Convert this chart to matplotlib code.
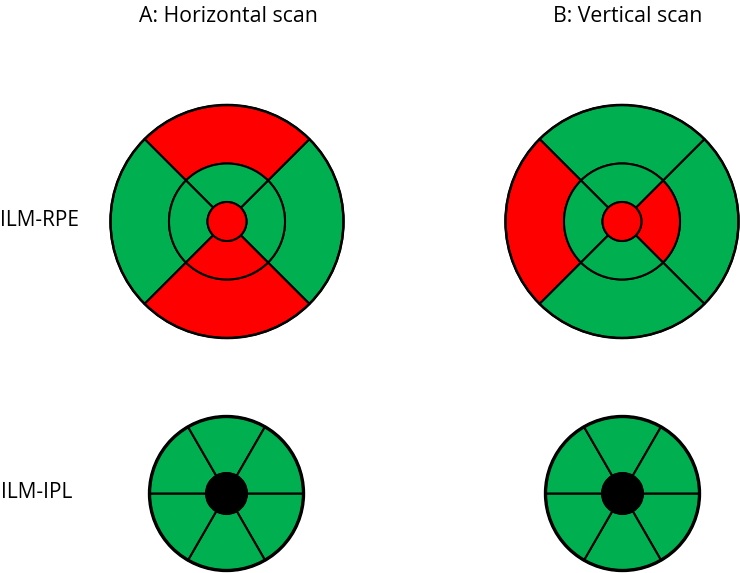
import matplotlib
matplotlib.use("Agg")
import matplotlib.pyplot as plt
from matplotlib.patches import Wedge, Circle

# ---- data ----
columns = ["A: Horizontal scan", "B: Vertical scan"]
rows = ["ILM-RPE", "ILM-IPL"]
quadrants = ["right", "top", "left", "bottom"]          # ETDRS quadrants
# 1 = significant (red), 0 = not significant (green)
A_center = 1
A_inner = [0, 0, 0, 1]
A_outer = [0, 1, 0, 1]
B_center = 1
B_inner = [1, 0, 0, 0]
B_outer = [0, 0, 1, 0]
ipl_sectors = ["s1", "s2", "s3", "s4", "s5", "s6"]
A_ipl = [0, 0, 0, 0, 0, 0]
B_ipl = [0, 0, 0, 0, 0, 0]

RED = "#FF0000"
GREEN = "#00B050"
col = {1: RED, 0: GREEN}

fig = plt.figure(figsize=(7.40, 5.73), dpi=100)
ax = fig.add_axes([0, 0, 1, 1])
ax.set_xlim(0, 740)
ax.set_ylim(573, 0)
ax.set_aspect("equal")
ax.axis("off")

font = ["Open Sans", "DejaVu Sans"]

def etdrs(cx, cy, center, inner, outer):
    R1, R2, R3 = 19.5, 58, 116.5
    for i, q in enumerate(quadrants):
        mid = -i * 90
        th1, th2 = mid - 45, mid + 45
        ax.add_patch(Wedge((cx, cy), R3, th1, th2, width=R3 - R2,
                           facecolor=col[outer[i]], edgecolor="black", lw=1.5))
        ax.add_patch(Wedge((cx, cy), R2, th1, th2, width=R2 - R1,
                           facecolor=col[inner[i]], edgecolor="black", lw=1.5))
    ax.add_patch(Circle((cx, cy), R1, facecolor=col[center], edgecolor="black", lw=1.5))
    ax.add_patch(Circle((cx, cy), R3, facecolor="none", edgecolor="black", lw=1.8))

def ipl(cx, cy, vals):
    R1, R2 = 20.5, 77
    for i, s in enumerate(ipl_sectors):
        ax.add_patch(Wedge((cx, cy), R2, i * 60, (i + 1) * 60, width=R2 - R1,
                           facecolor=col[vals[i]], edgecolor="black", lw=1.5))
    ax.add_patch(Circle((cx, cy), R2, facecolor="none", edgecolor="black", lw=2.4))
    ax.add_patch(Circle((cx, cy), R1, facecolor="black", edgecolor="black", lw=1))

etdrs(227, 221.5, A_center, A_inner, A_outer)
etdrs(622, 221.5, B_center, B_inner, B_outer)
ipl(226.5, 493.5, A_ipl)
ipl(622.5, 493.5, B_ipl)

ax.text(228, 16, columns[0], ha="center", va="center", fontsize=15.3, family=font)
ax.text(628, 16, columns[1], ha="center", va="center", fontsize=15.3, family=font)
ax.text(0, 220, rows[0], ha="left", va="center", fontsize=15, family=font)
ax.text(1, 493, rows[1], ha="left", va="center", fontsize=15, family=font)

fig.savefig("out.png", dpi=100)
